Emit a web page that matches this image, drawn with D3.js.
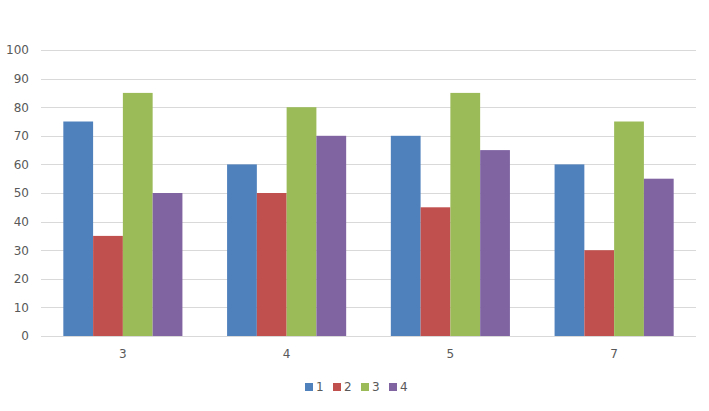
<!DOCTYPE html>
<html>
<head>
<meta charset="utf-8">
<script src="https://cdn.jsdelivr.net/npm/d3@7"></script>
<style>
  body { margin: 0; background: #fff; }
  text { font-family: "DejaVu Sans", sans-serif; fill: #595959; }
</style>
</head>
<body>
<svg id="chart" width="709" height="411"></svg>
<script>
var categories = ["3", "4", "5", "7"];
var seriesNames = ["1", "2", "3", "4"];
var s1 = [75, 60, 70, 60];
var s2 = [35, 50, 45, 30];
var s3 = [85, 80, 85, 75];
var s4 = [50, 70, 65, 55];
var yTicks = [0, 10, 20, 30, 40, 50, 60, 70, 80, 90, 100];
var colors = ["#4f81bd", "#c0504d", "#9bbb59", "#8064a2"];

var series = [s1, s2, s3, s4];

// note: "top" is window.top, so use other names
var svg = d3.select("#chart"),
    plotLeft = 41, plotRight = 696, plotTop = 50, plotBottom = 336;

// gap width 150% like excel
var x0 = d3.scaleBand()
    .domain(categories)
    .range([plotLeft, plotRight])
    .paddingInner(1.5 / 5.5)
    .paddingOuter(0.75 / 5.5);

var x1 = d3.scaleBand()
    .domain(seriesNames)
    .range([0, x0.bandwidth()]);

var y = d3.scaleLinear().domain([0, 100]).range([plotBottom, plotTop]);

// gridlines
svg.append("g").selectAll("line")
  .data(yTicks.slice(1))
  .enter().append("line")
    .attr("x1", plotLeft).attr("x2", plotRight)
    .attr("y1", function(d) { return Math.round(y(d)) + 0.5; })
    .attr("y2", function(d) { return Math.round(y(d)) + 0.5; })
    .attr("stroke", "#d9d9d9").attr("stroke-width", 1);

// y labels
var yAxis = svg.append("g")
    .attr("transform", "translate(" + (plotLeft - 12) + ",0)")
    .call(d3.axisLeft(y).tickValues(yTicks).tickSize(0).tickPadding(0));
yAxis.select(".domain").remove();
yAxis.selectAll("text").style("font-size", "12px").attr("fill", "#595959");

// bars
var groups = svg.append("g").selectAll("g")
  .data(categories)
  .enter().append("g")
    .attr("transform", function(d) { return "translate(" + x0(d) + ",0)"; });

groups.selectAll("rect")
  .data(function(c, i) {
    return seriesNames.map(function(s, j) { return { key: s, value: series[j][i], color: colors[j] }; });
  })
  .enter().append("rect")
    .attr("x", function(d) { return x1(d.key); })
    .attr("width", x1.bandwidth())
    .attr("y", function(d) { return y(d.value); })
    .attr("height", function(d) { return y(0) - y(d.value); })
    .attr("fill", function(d) { return d.color; });

// x axis
var xAxis = svg.append("g")
    .attr("transform", "translate(0," + (Math.round(y(0)) + 0.5) + ")")
    .call(d3.axisBottom(x0).tickSize(0).tickPadding(13));
xAxis.select(".domain").attr("stroke", "#d9d9d9").attr("d", "M" + plotLeft + ",0H" + plotRight);
xAxis.selectAll("text").style("font-size", "12px").attr("fill", "#595959");

// legend
var legend = svg.append("g").selectAll("g")
  .data(seriesNames)
  .enter().append("g")
    .attr("transform", function(d, i) { return "translate(" + (305 + i * 28) + ",383)"; });

legend.append("rect")
    .attr("width", 8).attr("height", 8)
    .attr("fill", function(d, i) { return colors[i]; });

legend.append("text")
    .attr("x", 11).attr("y", 4).attr("dy", "0.35em")
    .style("font-size", "12px")
    .text(function(d) { return d; });
</script>
</body>
</html>
